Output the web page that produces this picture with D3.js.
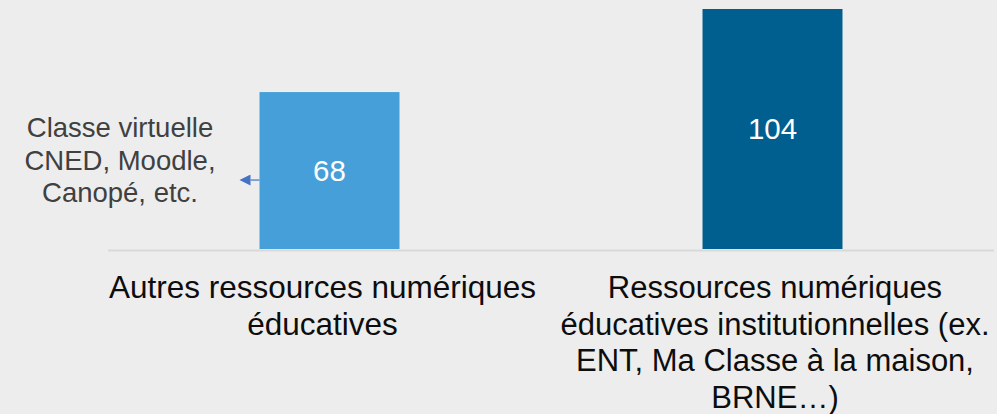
<!DOCTYPE html>
<html>
<head>
<meta charset="utf-8">
<script src="https://cdn.jsdelivr.net/npm/d3@7"></script>
<style>
  html, body { margin: 0; padding: 0; background: #ededed; }
  svg { display: block; font-family: "Liberation Sans", Arial, sans-serif; }
</style>
</head>
<body>
<div id="chart"></div>
<script>
// chart values
const categories = ["autres", "institutionnelles"];
const values = [68, 104];
const categoryLines = [
  ["Autres ressources numériques", "éducatives"],
  ["Ressources numériques", "éducatives institutionnelles (ex.", "ENT, Ma Classe à la maison,", "BRNE…)"]
];
const barColors = ["#469fd8", "#005f8f"];
const noteLines = ["Classe virtuelle", "CNED, Moodle,", "Canopé, etc."];

const svgWidth = 997;
const svgHeight = 414;

const margin = { top: 9, right: 3, bottom: 165, left: 108 };
const width = svgWidth - margin.left - margin.right;
const height = svgHeight - margin.top - margin.bottom;

const svg = d3.select("#chart")
  .append("svg")
  .attr("width", svgWidth)
  .attr("height", svgHeight);

svg.append("rect")
  .attr("width", svgWidth)
  .attr("height", svgHeight)
  .attr("fill", "#ededed");

const chartGroup = svg.append("g")
  .attr("transform", `translate(${margin.left}, ${margin.top})`);

// scales
const xScale = d3.scaleBand()
  .domain(categories)
  .range([0, width])
  .paddingInner(0.684)
  .paddingOuter(0.342);

const yScale = d3.scaleLinear()
  .domain([0, d3.max(values)])
  .range([height, 0]);

// bars
chartGroup.selectAll("rect.bar")
  .data(values)
  .enter()
  .append("rect")
  .attr("class", "bar")
  .attr("x", (d, i) => xScale(categories[i]))
  .attr("y", d => yScale(d))
  .attr("width", xScale.bandwidth())
  .attr("height", d => height - yScale(d))
  .attr("fill", (d, i) => barColors[i]);

// baseline
chartGroup.append("line")
  .attr("x1", 0)
  .attr("x2", width)
  .attr("y1", height + 1.5)
  .attr("y2", height + 1.5)
  .attr("stroke", "#d9d9d9")
  .attr("stroke-width", 2);

// value labels
chartGroup.selectAll("text.value")
  .data(values)
  .enter()
  .append("text")
  .attr("class", "value")
  .attr("x", (d, i) => xScale(categories[i]) + xScale.bandwidth() / 2)
  .attr("y", d => (yScale(d) + height) / 2)
  .attr("dy", "0.35em")
  .attr("text-anchor", "middle")
  .attr("font-size", 29.5)
  .attr("fill", "#ffffff")
  .text(d => d);

// category labels (wrapped text sits a little off the band centre, as in the slide)
const labelGroup = chartGroup.selectAll("text.cat")
  .data(categories)
  .enter()
  .append("text")
  .attr("class", "cat")
  .attr("text-anchor", "middle")
  .attr("font-size", (d, i) => i === 0 ? 31.5 : 31)
  .attr("fill", "#0d0d0d");

labelGroup.each(function(c, i) {
  const cx = xScale(c) + xScale.bandwidth() / 2 + (i === 0 ? -7 : 2.5);
  d3.select(this).selectAll("tspan")
    .data(categoryLines[i])
    .enter()
    .append("tspan")
    .attr("x", cx)
    .attr("y", (d, j) => height + 49 + j * 36.5)
    .text(d => d);
});

// annotation pointing at first bar
const firstX = xScale(categories[0]);
const arrowY = (yScale(values[0]) + height) / 2 + 9.5;

svg.append("defs").append("marker")
  .attr("id", "arrow")
  .attr("viewBox", "0 0 10 10")
  .attr("refX", 0)
  .attr("refY", 5)
  .attr("markerWidth", 15)
  .attr("markerHeight", 11)
  .attr("markerUnits", "userSpaceOnUse")
  .attr("orient", "auto")
  .append("path")
  .attr("d", "M0,0 L10,5 L0,10 z")
  .attr("fill", "#4472c4");

chartGroup.append("line")
  .attr("x1", firstX)
  .attr("x2", firstX - 9)
  .attr("y1", arrowY)
  .attr("y2", arrowY)
  .attr("stroke", "#4472c4")
  .attr("stroke-width", 1.2)
  .attr("marker-end", "url(#arrow)");

chartGroup.append("text")
  .attr("text-anchor", "middle")
  .attr("font-size", 27.5)
  .attr("fill", "#404040")
  .selectAll("tspan")
  .data(noteLines)
  .enter()
  .append("tspan")
  .attr("x", 120 - margin.left)
  .attr("y", (d, i) => 137 - margin.top + i * 32.5)
  .text(d => d);
</script>
</body>
</html>
